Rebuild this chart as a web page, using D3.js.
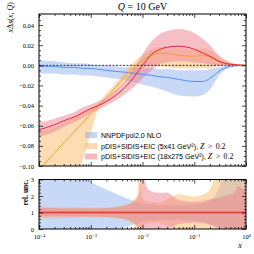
<!DOCTYPE html>
<html>
<head>
<meta charset="utf-8">
<script src="https://cdn.jsdelivr.net/npm/d3@7"></script>
<style>
body { margin: 0; background: #fff; }
</style>
</head>
<body>
<script>
// values, Q = 10 GeV
const x_top = [1e-4, 2e-4, 3e-4, 5e-4, 7e-4, 1e-3, 1.4e-3, 2e-3, 3e-3, 5e-3, 7e-3, 1e-2, 1.5e-2, 2e-2, 3e-2, 5e-2, 0.1, 0.15, 0.2, 0.3, 0.5, 1];

const nnpdf_mid = [-0.001, -0.001, -0.002, -0.002, -0.003, -0.003, -0.004, -0.005, -0.006, -0.007, -0.008, -0.009, -0.010, -0.011, -0.012, -0.014, -0.016, -0.016, -0.013, -0.006, -0.001, 0];
const nnpdf_lo  = [-0.008, -0.008, -0.009, -0.009, -0.010, -0.010, -0.011, -0.012, -0.013, -0.015, -0.017, -0.019, -0.021, -0.023, -0.026, -0.030, -0.031, -0.029, -0.024, -0.010, -0.002, 0];
const nnpdf_hi  = [0.005, 0.004, 0.003, 0.002, 0.002, 0.001, 0.000, 0.000, -0.001, -0.002, -0.002, -0.003, -0.003, -0.004, -0.004, -0.005, -0.005, -0.005, -0.004, -0.002, 0.000, 0];

const eic5_mid = [-0.104, -0.087, -0.077, -0.065, -0.057, -0.048, -0.040, -0.032, -0.022, -0.009, -0.001, 0.005, 0.010, 0.012, 0.012, 0.010, 0.009, 0.010, 0.008, 0.004, 0.001, 0];
const eic5_lo  = [-0.200, -0.160, -0.140, -0.115, -0.094, -0.068, -0.043, -0.036, -0.027, -0.015, -0.007, -0.002, 0.000, -0.001, -0.002, -0.003, -0.003, -0.003, -0.003, -0.001, 0.000, 0];
const eic5_hi  = [-0.066, -0.061, -0.057, -0.051, -0.047, -0.043, -0.037, -0.028, -0.018, -0.004, 0.004, 0.010, 0.016, 0.018, 0.018, 0.017, 0.016, 0.017, 0.015, 0.008, 0.002, 0];

const eic18_mid = [-0.064, -0.059, -0.055, -0.051, -0.047, -0.043, -0.040, -0.036, -0.030, -0.020, -0.011, 0.000, 0.011, 0.015, 0.018, 0.019, 0.016, 0.012, 0.009, 0.004, 0.001, 0];
const eic18_lo  = [-0.071, -0.066, -0.061, -0.056, -0.052, -0.047, -0.044, -0.040, -0.035, -0.027, -0.021, -0.013, -0.005, 0.000, 0.003, 0.004, 0.003, 0.002, 0.001, 0.000, 0.000, 0];
const eic18_hi  = [-0.057, -0.053, -0.050, -0.046, -0.042, -0.039, -0.036, -0.032, -0.025, -0.013, -0.002, 0.011, 0.024, 0.030, 0.034, 0.036, 0.032, 0.026, 0.020, 0.010, 0.003, 0];

// relative uncertainty panel
const x_rel = [1e-4, 3e-4, 1e-3, 2e-3, 3e-3, 5e-3, 7e-3, 8e-3, 8.7e-3, 9.5e-3, 1e-2, 1.1e-2, 1.3e-2, 2e-2, 3e-2, 5e-2, 0.1, 0.15, 0.2, 0.3, 0.5, 0.6, 0.7, 1];
const nnpdf_rel_hi = [6, 4.5, 2.85, 2.4, 2.15, 1.85, 1.7, 1.65, 1.6, 1.58, 1.55, 1.52, 1.5, 1.45, 1.45, 1.45, 1.5, 1.55, 1.7, 2.5, 5, 6, 6, 6];
const nnpdf_rel_lo = [0, 0, 0, 0, 0, 0.15, 0.3, 0.35, 0.4, 0.42, 0.45, 0.48, 0.5, 0.55, 0.55, 0.55, 0.5, 0.45, 0.3, 0, 0, 0, 0, 0];
const eic5_rel_hi = [1.35, 1.33, 1.3, 1.3, 1.35, 1.5, 1.8, 2.2, 4, 2.2, 1.9, 1.75, 1.65, 1.6, 1.8, 2.1, 1.95, 2.1, 2.4, 4, 5, 5, 5, 5];
const eic5_rel_lo = [0.65, 0.67, 0.7, 0.7, 0.65, 0.5, 0.2, 0, 0, 0, 0.1, 0.25, 0.35, 0.4, 0.2, 0, 0.05, 0, 0, 0, 0, 0, 0, 0];
const eic18_rel_hi = [1.27, 1.26, 1.25, 1.28, 1.32, 1.45, 1.7, 1.9, 2.2, 4, 5, 3.0, 2.4, 2.2, 2.2, 1.75, 1.65, 1.7, 1.8, 1.9, 2.1, 2.2, 2.6, 2.2];
const eic18_rel_lo = [0.75, 0.76, 0.76, 0.73, 0.7, 0.58, 0.35, 0.15, 0, 0, 0, 0, 0, 0, 0, 0.3, 0.4, 0.35, 0.25, 0.1, 0, 0, 0, 0];

const x_major = [1e-4, 1e-3, 1e-2, 1e-1, 1];
const x_exp = ["\u22124", "\u22123", "\u22122", "\u22121", "0"];
const y_top_major = [-0.10, -0.08, -0.06, -0.04, -0.02, 0.00, 0.02, 0.04];
const y_bot_major = [0, 1, 2, 3];
const legend_labels = ["NNPDFpol2.0 NLO", "pDIS+SIDIS+EIC (5x41 GeV\u00b2), ", "pDIS+SIDIS+EIC (18x275 GeV\u00b2), "];

const col_blue = "#5b8def", fill_blue = "#8fb3f0";
const col_orange = "#f7a12a", fill_orange = "#fbb96a";
const col_red = "#e3263a", fill_red = "#ee7f8e";
const band_opacity = 0.5;

const width = 254, height = 254;
const left = 39, right = 246;
const top_y0 = 14, top_y1 = 166;
const bot_y0 = 179.5, bot_y1 = 229;
const serif = "'Liberation Serif', serif";
const sans = "'Liberation Sans', sans-serif";

let svg = d3.select("body").append("svg")
  .attr("width", width)
  .attr("height", height);

let x = d3.scaleLog().domain([1e-4, 1]).range([left, right]);
let y_top = d3.scaleLinear().domain([-0.1, 0.051]).range([top_y1, top_y0]);
let y_bot = d3.scaleLinear().domain([0, 3]).range([bot_y1, bot_y0]);

let defs = svg.append("defs");
defs.append("clipPath").attr("id", "clip_top").append("rect")
  .attr("x", left).attr("y", top_y0).attr("width", right - left).attr("height", top_y1 - top_y0);
defs.append("clipPath").attr("id", "clip_bot").append("rect")
  .attr("x", left).attr("y", bot_y0).attr("width", right - left).attr("height", bot_y1 - bot_y0);

let band = function(g, xs, lo, hi, ys, fill){
  let area = d3.area()
    .x((d, i) => x(xs[i]))
    .y0((d, i) => ys(lo[i]))
    .y1((d, i) => ys(hi[i]))
    .curve(d3.curveMonotoneX);
  g.append("path").datum(xs)
    .attr("d", area)
    .attr("fill", fill)
    .attr("fill-opacity", band_opacity);
}
let curve = function(g, xs, vals, ys, color, w){
  let line = d3.line()
    .x((d, i) => x(xs[i]))
    .y((d, i) => ys(vals[i]))
    .curve(d3.curveMonotoneX);
  g.append("path").datum(xs)
    .attr("d", line)
    .attr("fill", "none")
    .attr("stroke", color)
    .attr("stroke-width", w);
}

// ---- top panel
let g_top = svg.append("g").attr("clip-path", "url(#clip_top)");
band(g_top, x_top, nnpdf_lo, nnpdf_hi, y_top, fill_blue);
band(g_top, x_top, eic5_lo, eic5_hi, y_top, fill_orange);
band(g_top, x_top, eic18_lo, eic18_hi, y_top, fill_red);
g_top.append("line")
  .attr("x1", left).attr("x2", right)
  .attr("y1", y_top(0)).attr("y2", y_top(0))
  .attr("stroke", "#000").attr("stroke-width", 0.8)
  .attr("stroke-dasharray", "2,1.5");
curve(g_top, x_top, nnpdf_mid, y_top, col_blue, 1);
curve(g_top, x_top, eic5_mid, y_top, col_orange, 1);
curve(g_top, x_top, eic18_mid, y_top, col_red, 1);

// ---- bottom panel
let g_bot = svg.append("g").attr("clip-path", "url(#clip_bot)");
band(g_bot, x_rel, nnpdf_rel_lo, nnpdf_rel_hi, y_bot, fill_blue);
band(g_bot, x_rel, eic5_rel_lo, eic5_rel_hi, y_bot, fill_orange);
band(g_bot, x_rel, eic18_rel_lo, eic18_rel_hi, y_bot, fill_red);
[col_blue, col_orange, col_red].forEach(function(c){
  g_bot.append("line")
    .attr("x1", left).attr("x2", right)
    .attr("y1", y_bot(1)).attr("y2", y_bot(1))
    .attr("stroke", c).attr("stroke-width", 1.6).attr("stroke-opacity", 0.8);
});

// ---- ticks (inward on all sides)
let x_minor = x.ticks().filter(v => x_major.indexOf(v) < 0);
let y_top_minor = d3.range(-0.1, 0.0501, 0.005).filter(v => Math.abs(Math.round(v * 50) - v * 50) > 1e-6);
let y_bot_minor = d3.range(0, 3.001, 0.2).filter(v => Math.abs(Math.round(v) - v) > 1e-6);

let tick_axis = function(axis_fn, scale, vals, len, tx, ty){
  let ax = axis_fn(scale).tickValues(vals).tickSize(-len).tickFormat("");
  let g = svg.append("g").attr("transform", "translate(" + tx + "," + ty + ")").call(ax);
  g.select(".domain").remove();
  g.selectAll(".tick line").attr("stroke", "#000").attr("stroke-width", 0.7);
  return g;
}
let panel_ticks = function(ys, y0, y1, y_major, y_minor){
  tick_axis(d3.axisBottom, x, x_major, 4, 0, y1);
  tick_axis(d3.axisBottom, x, x_minor, 2, 0, y1);
  tick_axis(d3.axisTop, x, x_major, 4, 0, y0);
  tick_axis(d3.axisTop, x, x_minor, 2, 0, y0);
  tick_axis(d3.axisLeft, ys, y_major, 4, left, 0);
  tick_axis(d3.axisLeft, ys, y_minor, 2, left, 0);
  tick_axis(d3.axisRight, ys, y_major, 4, right, 0);
  tick_axis(d3.axisRight, ys, y_minor, 2, right, 0);
  svg.append("rect")
    .attr("x", left).attr("y", y0)
    .attr("width", right - left).attr("height", y1 - y0)
    .attr("fill", "none").attr("stroke", "#000").attr("stroke-width", 1);
}
panel_ticks(y_top, top_y0, top_y1, y_top_major, y_top_minor);
panel_ticks(y_bot, bot_y0, bot_y1, y_bot_major, y_bot_minor);

// ---- tick labels
let fmt2 = d3.format(".2f");
let g_yl = svg.append("g").attr("transform", "translate(" + left + ",0)")
  .call(d3.axisLeft(y_top).tickValues(y_top_major).tickSize(0).tickPadding(5)
        .tickFormat(d => fmt2(d).replace("-", "\u2212")));
g_yl.select(".domain").remove();
g_yl.selectAll("text").attr("font-family", serif).attr("font-size", 6.5);

let g_yb = svg.append("g").attr("transform", "translate(" + left + ",0)")
  .call(d3.axisLeft(y_bot).tickValues(y_bot_major).tickSize(0).tickPadding(5).tickFormat(d3.format("d")));
g_yb.select(".domain").remove();
g_yb.selectAll("text").attr("font-family", serif).attr("font-size", 6.5);

let g_xl = svg.append("g").attr("transform", "translate(0," + bot_y1 + ")")
  .call(d3.axisBottom(x).tickValues(x_major).tickSize(0).tickPadding(5).tickFormat(""));
g_xl.select(".domain").remove();
g_xl.selectAll(".tick text").each(function(d, i){
  let t = d3.select(this).attr("font-family", serif).attr("font-size", 6.5);
  t.append("tspan").text("10");
  t.append("tspan").attr("dy", "-0.45em").attr("font-size", 4.5).text(x_exp[i]);
});

// ---- titles and labels
let title = svg.append("text")
  .attr("x", (left + right) / 2).attr("y", 10)
  .attr("text-anchor", "middle")
  .attr("font-family", serif).attr("font-size", 10);
title.append("tspan").attr("font-style", "italic").text("Q");
title.append("tspan").text(" = 10 GeV");

let ylab = svg.append("text")
  .attr("transform", "translate(13,2) rotate(-90)")
  .attr("text-anchor", "end")
  .attr("font-family", serif).attr("font-size", 8);
ylab.append("tspan").attr("font-style", "italic").text("x");
ylab.append("tspan").text("\u0394");
ylab.append("tspan").attr("font-style", "italic").text("s");
ylab.append("tspan").text("(");
ylab.append("tspan").attr("font-style", "italic").text("x");
ylab.append("tspan").text(", ");
ylab.append("tspan").attr("font-style", "italic").text("Q");
ylab.append("tspan").text(")");

svg.append("text")
  .attr("transform", "translate(28," + bot_y0 + ") rotate(-90)")
  .attr("text-anchor", "end")
  .attr("font-family", serif).attr("font-size", 7.5).attr("font-weight", "bold")
  .text("rel. unc.");

svg.append("text")
  .attr("x", 240).attr("y", 248)
  .attr("text-anchor", "middle")
  .attr("font-family", serif).attr("font-size", 8).attr("font-style", "italic")
  .text("x");

// ---- legend
const legend_fills = [fill_blue, fill_orange, fill_red];
const legend_y = [135, 146, 156.5];
legend_labels.forEach(function(lab, i){
  svg.append("rect")
    .attr("x", 85).attr("y", legend_y[i] - 3)
    .attr("width", 12).attr("height", 6)
    .attr("fill", legend_fills[i]).attr("fill-opacity", band_opacity + 0.05);
  let t = svg.append("text")
    .attr("x", 101).attr("y", legend_y[i] + 2.5)
    .attr("font-family", sans).attr("font-size", 7.1);
  t.append("tspan").text(lab);
  if(i > 0){
    t.append("tspan").attr("font-family", serif).attr("font-size", 7.8).attr("font-style", "italic").text("Z");
    t.append("tspan").attr("font-family", serif).attr("font-size", 7.8).text(" \u2009>\u2009 0.2");
  }
});
</script>
</body>
</html>
